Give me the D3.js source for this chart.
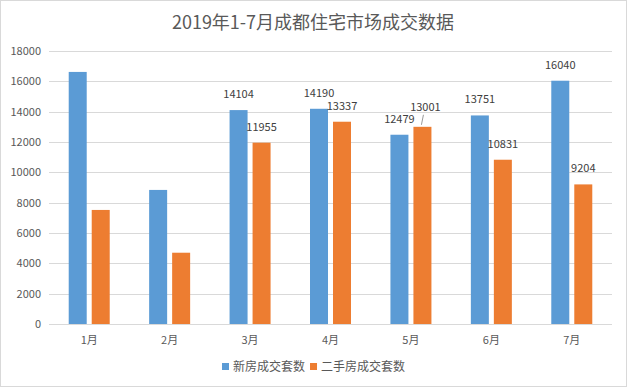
<!DOCTYPE html>
<html>
<head>
<meta charset="utf-8">
<script src="https://cdn.jsdelivr.net/npm/d3@7"></script>
<style>
  body { margin: 0; padding: 0; background: #fff; }
  svg { display: block; }
</style>
</head>
<body>
<svg id="chart" width="627" height="387"></svg>
<script>
// data
const months = ["1月", "2月", "3月", "4月", "5月", "6月", "7月"];
const newHomes = [16620, 8840, 14104, 14190, 12479, 13751, 16040];
const resale = [7520, 4700, 11955, 13337, 13001, 10831, 9204];
const seriesNames = ["新房成交套数", "二手房成交套数"];
const yTicks = [0, 2000, 4000, 6000, 8000, 10000, 12000, 14000, 16000, 18000];

const width = 627, height = 387;
const colors = ["#5B9BD5", "#ED7D31"];
const font = "'Noto Sans CJK SC', 'Noto Sans', sans-serif";

const svg = d3.select("#chart");

// outer frame
svg.append("rect")
    .attr("x", 0.5).attr("y", 0.5)
    .attr("width", width - 1).attr("height", height - 1)
    .style("fill", "#fff")
    .style("stroke", "#d9d9d9");

svg.append("text")
    .attr("x", 313).attr("y", 29)
    .attr("text-anchor", "middle")
    .style("font-family", font)
    .style("font-size", "18px")
    .style("fill", "#595959")
    .text("2019年1-7月成都住宅市场成交数据");

const plot = { left: 49, right: 612, top: 51, bottom: 324 };

const x = d3.scaleBand()
    .domain(months)
    .range([plot.left, plot.right]);

// two bars of 18px with 5px between them, centred in each month
const step = 23;
const po = (x.bandwidth() / step - 2 + 5 / 23) / 2;
const x1 = d3.scaleBand()
    .domain([0, 1])
    .range([0, x.bandwidth()])
    .paddingInner(5 / 23)
    .paddingOuter(po);

const y = d3.scaleLinear()
    .domain([0, 18000])
    .range([plot.bottom, plot.top]);

// gridlines
svg.append("g")
    .selectAll("line")
    .data(yTicks)
    .join("line")
    .attr("x1", plot.left).attr("x2", plot.right)
    .attr("y1", d => Math.round(y(d)) + 0.5)
    .attr("y2", d => Math.round(y(d)) + 0.5)
    .style("stroke", "#d9d9d9")
    .style("stroke-width", 1);

// y axis labels
svg.append("g")
    .selectAll("text")
    .data(yTicks)
    .join("text")
    .attr("x", 41)
    .attr("y", d => y(d) + 4)
    .attr("text-anchor", "end")
    .style("font-family", font)
    .style("font-size", "11px")
    .style("fill", "#595959")
    .text(d => d);

// x axis labels
svg.append("g")
    .selectAll("text")
    .data(months)
    .join("text")
    .attr("x", d => x(d) + x.bandwidth() / 2)
    .attr("y", 344)
    .attr("text-anchor", "middle")
    .style("font-family", font)
    .style("font-size", "11px")
    .style("fill", "#595959")
    .text(d => d);

const rows = [];
months.forEach((m, i) => {
    rows.push({ m, s: 0, v: newHomes[i], i });
    rows.push({ m, s: 1, v: resale[i], i });
});

svg.append("g")
    .selectAll("rect")
    .data(rows)
    .join("rect")
    .attr("x", d => x(d.m) + x1(d.s))
    .attr("width", x1.bandwidth())
    .attr("y", d => y(d.v))
    .attr("height", d => y(0) - y(d.v))
    .style("fill", d => colors[d.s]);

// value labels only shown from March on
const labelled = rows.filter(d => d.i >= 2);
const lifted = d => d.m === "5月" && d.s === 1;   // moved up to clear its neighbour
svg.append("g")
    .selectAll("text")
    .data(labelled)
    .join("text")
    .attr("x", d => x(d.m) + x1(d.s) + x1.bandwidth() / 2 + (lifted(d) ? 3 : 0))
    .attr("y", d => y(d.v) - (lifted(d) ? 16 : 12))
    .attr("text-anchor", "middle")
    .style("font-family", font)
    .style("font-size", "11px")
    .style("fill", "#404040")
    .text(d => d.v);

// leader line for the lifted label
labelled.filter(lifted).forEach(d => {
    const cx = x(d.m) + x1(d.s) + x1.bandwidth() / 2;
    svg.append("line")
        .attr("x1", cx - 1).attr("y1", y(d.v) - 2)
        .attr("x2", cx + 1).attr("y2", y(d.v) - 12)
        .style("stroke", "#7f7f7f")
        .style("stroke-width", 0.8);
});

// legend
const legend = svg.append("g").attr("transform", "translate(222,367)");
let lx = 0;
seriesNames.forEach((name, i) => {
    legend.append("rect")
        .attr("x", lx).attr("y", -4)
        .attr("width", 7).attr("height", 7)
        .style("fill", colors[i]);
    const t = legend.append("text")
        .attr("x", lx + 11).attr("y", 4)
        .style("font-family", font)
        .style("font-size", "12px")
        .style("fill", "#595959")
        .text(name);
    lx += 11 + t.node().getComputedTextLength() + 5;
});
</script>
</body>
</html>
